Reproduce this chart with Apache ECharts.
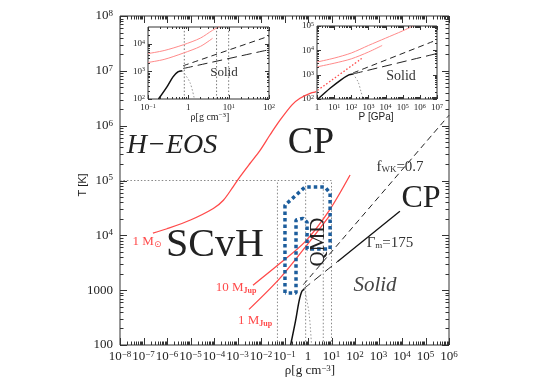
<!DOCTYPE html>
<html>
<head>
<meta charset="utf-8">
<title>H-EOS phase diagram</title>
<script src="https://cdn.jsdelivr.net/npm/echarts@6/dist/echarts.min.js"></script>
</head>
<body style="margin:0;background:#fff">
<div id="main" style="width:540px;height:382px;"></div>
<script>
var chart = echarts.init(document.getElementById('main'));

// main panel, all values log10: rho [g cm^-3], T [K]
var sunRho = [-6.6, -6.0, -5.0, -4.03, -3.6, -3.18, -2.89, -2.47, -2.04, -1.62, -1.19, -0.68, -0.34, 0.09, 0.3];
var sunT   = [4.04, 4.12, 4.28, 4.49, 4.64, 4.89, 5.07, 5.31, 5.55, 5.83, 6.10, 6.38, 6.50, 6.59, 6.61];
var sunCoreRho = [0.3, 2.3];
var sunCoreT   = [6.61, 7.23];
var jup10Rho = [-2.34, -1.19, -0.13, 0.9, 1.79];
var jup10T   = [3.09, 3.49, 3.88, 4.45, 5.10];
var jup1Rho = [-2.51, -1.19, 0.0, 0.94];
var jup1T   = [2.65, 3.22, 3.85, 4.37];
var meltRho = [-0.74, -0.53, -0.38, -0.26, -0.15];
var meltT   = [2.0, 2.44, 2.80, 2.98, 3.02];
var meltDotRho = [-0.15, 0.04, 0.15];
var meltDotT   = [3.02, 2.6, 2.0];
var fwkRho = [-0.2, 6.0];
var fwkT   = [3.1, 6.19];
var gamDashRho = [-0.2, 1.25];
var gamDashT   = [3.02, 3.52];
var gamRho = [1.25, 3.91];
var gamT   = [3.52, 4.44];
var qmdRho = [-0.98, -0.98, -0.13, 0.72, 0.94, 0.94, -0.04, -0.04, -0.21, -0.51, -0.51, -0.98];
var qmdT   = [2.95, 4.55, 4.88, 4.88, 4.77, 3.75, 3.75, 4.24, 4.31, 4.28, 2.95, 2.95];
var refRho = [-1.3, -0.1, 0.65, 1.0];   // dotted verticals, T 10^2..10^5
var refT = 5;                          // dotted horizontal

// inset 1: log rho vs log T
var in1UpRho = [-1, -0.6, -0.12, 0.3, 0.6, 0.85];
var in1UpT   = [3.64, 3.75, 3.96, 4.2, 4.48, 4.68];
var in1LoRho = [-1, -0.6, -0.12, 0.3, 0.6];
var in1LoT   = [3.32, 3.43, 3.66, 3.9, 4.19];
var in1DashRho = [-0.13, 2];
var in1DashT   = [3.2, 4.27];
var in1LongRho = [-0.13, 2];
var in1LongT   = [3.1, 3.78];
var in1Ref = [-0.1, 0.7, 1.0];

// inset 2: log P [GPa] vs log T
var in2UpP = [0, 1, 2, 3, 4, 5, 5.6];
var in2UpT = [3.52, 3.68, 3.89, 4.2, 4.5, 4.8, 5.0];
var in2LoP = [0, 1, 2, 3, 3.8];
var in2LoT = [3.32, 3.47, 3.65, 3.93, 4.2];
var in2MeltP = [0.06, 0.78, 1.38, 1.86, 2.1];
var in2MeltT = [2.0, 2.45, 2.78, 2.99, 3.03];
var in2DotP = [2.1, 2.4, 2.57, 2.7];
var in2DotT = [3.03, 2.7, 2.29, 2.0];
var in2DashP = [2.1, 7];
var in2DashT = [3.07, 4.43];
var in2LongP = [2.1, 7];
var in2LongT = [3.03, 3.87];

var SERIF = 'Liberation Serif';
var RED = '#ff4a4a';
var PINK = '#ff8a8a';

function zip(a, b) { return a.map(function (v, i) { return [v, b[i]]; }); }

function pow10(v, plainSmall) {
    if (Math.abs(v - Math.round(v)) > 1e-6) return '';
    v = Math.round(v);
    if (plainSmall && v === 2) return '100';
    if (plainSmall && v === 3) return '1000';
    if (v === 0) return '1';
    return '10{s|' + (v < 0 ? '\u2212' : '') + Math.abs(v) + '}';
}

function tickData(lo, hi) {
    var out = [];
    for (var n = Math.floor(lo); n <= hi; n++) {
        for (var k = 1; k <= 9; k++) {
            var v = n + Math.log10(k);
            if (v >= lo - 1e-9 && v <= hi + 1e-9) out.push(v);
        }
    }
    return out;
}

function tickSeries(idx, xr, yr, majLen, minLen) {
    var data = [];
    tickData(xr[0], xr[1]).forEach(function (v) { data.push([v, yr[0], 0, Math.abs(v - Math.round(v)) < 1e-6 ? 1 : 0]); });
    tickData(yr[0], yr[1]).forEach(function (v) { data.push([xr[0], v, 1, Math.abs(v - Math.round(v)) < 1e-6 ? 1 : 0]); });
    return {
        type: 'custom', xAxisIndex: idx, yAxisIndex: idx, silent: true, clip: false, z: 5,
        data: data,
        renderItem: function (params, api) {
            var cs = params.coordSys;
            var len = api.value(3) ? majLen : minLen;
            var st = { stroke: '#333', lineWidth: 1 };
            if (api.value(2) === 0) {
                var x = Math.round(api.coord([api.value(0), yr[0]])[0]) + 0.5;
                return { type: 'group', children: [
                    { type: 'line', shape: { x1: x, y1: cs.y + cs.height, x2: x, y2: cs.y + cs.height - len }, style: st },
                    { type: 'line', shape: { x1: x, y1: cs.y, x2: x, y2: cs.y + len }, style: st }
                ] };
            }
            var y = Math.round(api.coord([xr[0], api.value(1)])[1]) + 0.5;
            return { type: 'group', children: [
                { type: 'line', shape: { x1: cs.x, y1: y, x2: cs.x + len, y2: y }, style: st },
                { type: 'line', shape: { x1: cs.x + cs.width, y1: y, x2: cs.x + cs.width - len, y2: y }, style: st }
            ] };
        }
    };
}

function line(idx, data, color, width, type, z) {
    return {
        type: 'line', xAxisIndex: idx, yAxisIndex: idx, data: data, symbol: 'none',
        silent: true, z: z || 3, smooth: 0.3,
        lineStyle: { color: color, width: width, type: type || 'solid' }
    };
}

function axis(idx, lo, hi, size, margin, plainSmall, isY) {
    return {
        type: 'value', gridIndex: idx, min: lo, max: hi, interval: 1,
        axisLine: { show: false }, axisTick: { show: false }, splitLine: { show: false },
        axisLabel: {
            margin: margin, color: '#222', fontFamily: SERIF, fontSize: size,
            formatter: function (v) { return pow10(v, plainSmall); },
            rich: { s: { fontFamily: SERIF, fontSize: Math.round(size * 0.68), verticalAlign: 'top', padding: [0, 0, Math.round(size * 0.35), 0] } }
        }
    };
}

function txt(x, y, text, size, opts) {
    opts = opts || {};
    return {
        type: 'text', x: x, y: y, rotation: opts.rot || 0, z: 20,
        style: {
            text: text, align: 'center', verticalAlign: 'middle',
            fontFamily: opts.family || SERIF, fontSize: size,
            fontStyle: opts.italic ? 'italic' : 'normal',
            fill: opts.color || '#222',
            rich: opts.rich
        }
    };
}

var series = [];
refRho.forEach(function (r) { series.push(line(0, [[r, 2], [r, refT]], '#888', 1, [1.5, 2])); });
series.push(line(0, [[-8, refT], [1.0, refT]], '#888', 1, [1.5, 2]));
series.push(line(0, zip(sunRho, sunT), RED, 1.3));
series.push(line(0, zip(sunCoreRho, sunCoreT), RED, 1.3, [1.5, 2]));
series.push(line(0, zip(jup10Rho, jup10T), RED, 1.3));
series.push(line(0, zip(jup1Rho, jup1T), RED, 1.3));
series.push(line(0, zip(meltRho, meltT), '#111', 1.5));
series.push(line(0, zip(meltDotRho, meltDotT), '#999', 1, [1.5, 2]));
series.push(line(0, zip(fwkRho, fwkT), '#222', 1, [6, 4]));
series.push(line(0, zip(gamDashRho, gamDashT), '#222', 1, [9, 5]));
series.push(line(0, zip(gamRho, gamT), '#111', 1.3));
var qmd = line(0, zip(qmdRho, qmdT), '#1c5d9c', 3.5, [3.5, 3], 4);
qmd.smooth = false;
qmd.lineStyle.cap = 'butt';
series.push(qmd);

in1Ref.forEach(function (r) { series.push(line(1, [[r, 2], [r, 4.6]], '#777', 1, [1.5, 2])); });
series.push(line(1, zip(in1UpRho, in1UpT), PINK, 1));
series.push(line(1, zip(in1LoRho, in1LoT), PINK, 1));
series.push(line(1, zip(meltRho, meltT), '#111', 1.5));
series.push(line(1, zip(meltDotRho, meltDotT), '#999', 1, [1.5, 2]));
series.push(line(1, zip(in1DashRho, in1DashT), '#222', 1, [6, 4]));
series.push(line(1, zip(in1LongRho, in1LongT), '#222', 1, [10, 5]));

series.push(line(2, zip(in2UpP, in2UpT), PINK, 1));
series.push(line(2, zip(in2LoP, in2LoT), PINK, 1));
series.push(line(2, zip(in2MeltP, in2MeltT), '#111', 1.5));
series.push(line(2, zip(in2DotP, in2DotT), '#999', 1, [1.5, 2]));
series.push(line(2, zip(in2DashP, in2DashT), '#222', 1, [6, 4]));
series.push(line(2, zip(in2LongP, in2LongT), '#222', 1, [10, 5]));

series.push(tickSeries(0, [-8, 6], [2, 8], 7, 3.5));
series.push(tickSeries(1, [-1, 2], [2, 4.6], 4, 2));
series.push(tickSeries(2, [0, 7], [2, 5], 4, 2));

var subRich = { b: { fontSize: 9, verticalAlign: 'bottom', padding: [6, 0, 0, 0], fontFamily: SERIF } };
var redSub = { b: { fontSize: 8, verticalAlign: 'bottom', padding: [5, 0, 0, 0], fontFamily: SERIF, fill: RED, fontWeight: 'bold' },
               o: { fontSize: 9, verticalAlign: 'bottom', padding: [5, 0, 0, 0], fontFamily: 'DejaVu Sans', fill: RED } };
var supRich = { s: { fontSize: 9, verticalAlign: 'top', padding: [0, 0, 5, 0], fontFamily: SERIF } };
var supSmall = { s: { fontSize: 7, verticalAlign: 'top', padding: [0, 0, 4, 0], fontFamily: SERIF } };

var option = {
    backgroundColor: '#fff',
    animation: false,
    grid: [
        { left: 120, top: 16, width: 329, height: 329, show: true, borderColor: '#333', borderWidth: 1 },
        { left: 148, top: 27, width: 121, height: 72, show: true, borderColor: '#333', borderWidth: 1, backgroundColor: '#fff' },
        { left: 317, top: 26, width: 120, height: 73, show: true, borderColor: '#333', borderWidth: 1, backgroundColor: '#fff' }
    ],
    xAxis: [axis(0, -8, 6, 13, 5, false), axis(1, -1, 2, 9, 4, false), axis(2, 0, 7, 9, 4, false)],
    yAxis: [axis(0, 2, 8, 13, 7, true), axis(1, 2, 4.6, 9, 3, false), axis(2, 2, 5, 9, 3, false)],
    series: series,
    graphic: [
        txt(172, 146, 'H\u2212EOS', 28, { italic: true }),
        txt(311, 143, 'CP', 38),
        txt(421, 199, 'CP', 32),
        txt(215, 245, 'SCvH', 40),
        txt(375, 285, 'Solid', 21, { italic: true, color: '#444' }),
        txt(224, 73, 'Solid', 13, { color: '#333' }),
        txt(401, 76, 'Solid', 14, { color: '#333' }),
        txt(400, 167, 'f{b|WK}=0.7', 15, { rich: subRich, color: '#333' }),
        txt(390, 243, '\u0393{b|m}=175', 15, { rich: subRich, color: '#333' }),
        txt(318, 242, 'QMD', 21, { rot: Math.PI / 2 }),
        txt(147, 242, '1 M{o|\u2299}', 13, { color: RED, rich: redSub }),
        txt(236, 288, '10 M{b|Jup}', 13, { color: RED, rich: redSub }),
        txt(255, 321, '1 M{b|Jup}', 13, { color: RED, rich: redSub }),
        txt(83, 185, 'T [K]', 11, { rot: Math.PI / 2, family: 'Liberation Sans' }),
        txt(310, 371, '\u03c1[g cm{s|\u22123}]', 13, { rich: supRich }),
        txt(210, 117, '\u03c1[g cm{s|\u22123}]', 10, { rich: supSmall }),
        txt(376, 117, 'P [GPa]', 10, { family: 'Liberation Sans' })
    ]
};

chart.setOption(option);
</script>
</body>
</html>
